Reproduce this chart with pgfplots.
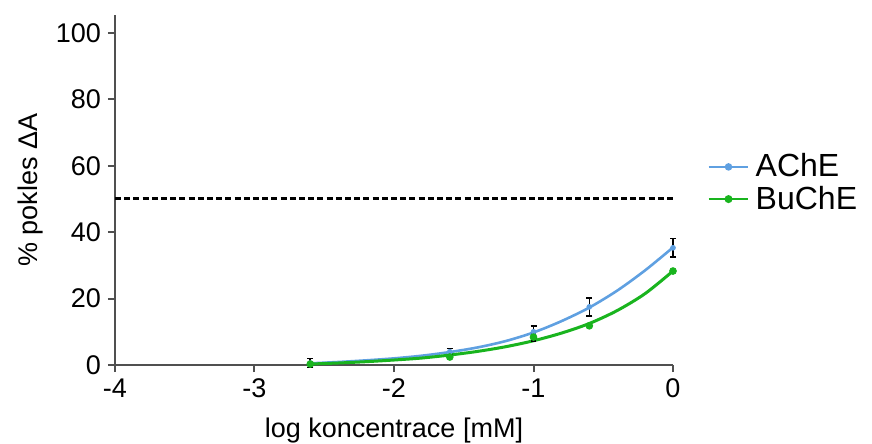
\documentclass[border=0pt]{standalone}
\usepackage{fontspec}
\setmainfont{Liberation Sans}
\usepackage{pgfplots}
\pgfplotsset{compat=1.18}

\definecolor{ache}{RGB}{95,160,225}
\definecolor{buche}{RGB}{25,180,30}
\definecolor{axgray}{RGB}{80,80,80}

\begin{document}
\begin{tikzpicture}
\begin{axis}[
    scale only axis,
    width=279pt, height=175pt,
    xmin=-4, xmax=0,
    ymin=0, ymax=105.4,
    axis x line*=bottom, axis y line*=left,
    axis line style={axgray, line width=1pt},
    xtick={-4,-3,-2,-1,0},
    ytick={0,20,40,60,80,100},
    tick align=outside,
    major tick length=3.5pt,
    tick style={axgray, line width=1pt},
    /pgf/number format/assume math mode=true,
    ticklabel style={font=\fontsize{13.5}{16}\selectfont},
    xlabel={log koncentrace [mM]},
    ylabel={\% pokles ΔA},
    xlabel style={font=\fontsize{13.5}{16}\selectfont, yshift=-3pt},
    ylabel style={font=\fontsize{13.5}{16}\selectfont, yshift=-0.5pt},
    clip=false,
    legend style={draw=none, fill=none, at={(1.05,0.52)}, anchor=west,
        font=\fontsize{16}{18}\selectfont, row sep=-1pt,
        nodes={inner xsep=3pt}},
    legend cell align=left,
    legend image code/.code={
        \draw[#1, line width=1.3pt] (0cm,0cm) -- (0.7cm,0cm);
        \fill[#1] (0.35cm,0cm) circle (1.2pt);
    },
]
% 50 % line
\addplot[black, line width=1.5pt, dash pattern=on 3pt off 1.6pt, forget plot]
    coordinates {(-4,50) (0,50)};

% fitted curves
\addplot[ache, line width=1.3pt, smooth] coordinates {
    (-2.6,0.5) (-2.4,0.9) (-2.2,1.4) (-2.0,2.0) (-1.8,2.8) (-1.6,3.9) (-1.4,5.3)
    (-1.2,7.2) (-1.0,9.8) (-0.8,13.2) (-0.6,17.3) (-0.4,22.4) (-0.2,28.5) (0,35.4)
};
\addlegendentry{AChE}
\addplot[buche, line width=1.5pt, smooth] coordinates {
    (-2.6,0.3) (-2.4,0.6) (-2.2,1.0) (-2.0,1.5) (-1.8,2.1) (-1.6,3.0) (-1.4,4.1)
    (-1.2,5.5) (-1.0,7.3) (-0.8,9.6) (-0.6,12.5) (-0.4,16.4) (-0.2,21.5) (0,28.3)
};
\addlegendentry{BuChE}

% measured points with error bars
\addplot[ache, only marks, mark=*, mark size=1.2pt, forget plot,
    error bars/.cd, y dir=both, y explicit,
    error bar style={black, line width=0.8pt}, error mark options={black, mark size=1.5pt, line width=0.8pt, rotate=90}]
    coordinates {
    (-2.6,0.6) +- (0,1.4)
    (-1.6,4) +- (0,1)
    (-1,10) +- (0,1.8)
    (-0.6,17.5) +- (0,2.7)
    (0,35.3) +- (0,2.8)
};
\addplot[buche, only marks, mark=*, mark size=1.7pt, forget plot,
    error bars/.cd, y dir=both, y explicit,
    error bar style={black, line width=0.8pt}, error mark options={black, mark size=1.2pt, line width=0.8pt, rotate=90}]
    coordinates {
    (-2.6,0.3) +- (0,0.3)
    (-1.6,2.4) +- (0,0.8)
    (-1,8.4) +- (0,1.2)
    (-0.6,11.8) +- (0,0.5)
    (0,28.3) +- (0,0.5)
};
\end{axis}
% page margins as in the reference
\pgfresetboundingbox
\path ([xshift=-57.5pt,yshift=-39.5pt]current axis.south west)
    rectangle ([xshift=99.5pt,yshift=7.5pt]current axis.north east);
\end{tikzpicture}
\end{document}
